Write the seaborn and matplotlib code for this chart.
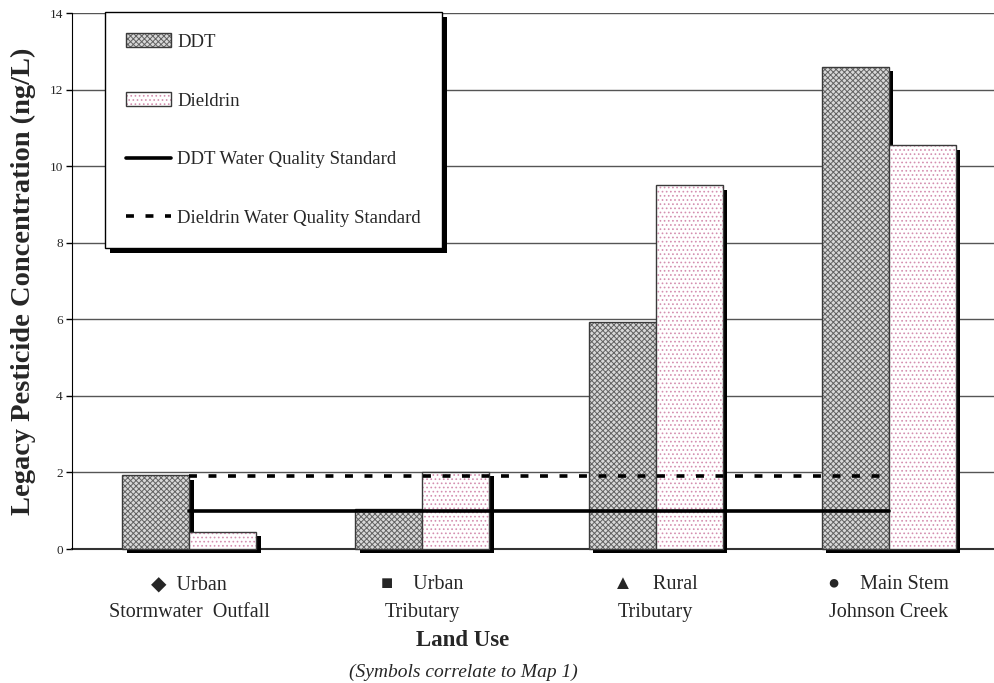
import pandas as pd
import matplotlib.pyplot as plt
import matplotlib.patheffects as pe
import seaborn as sns
from matplotlib.colors import to_rgba
from matplotlib.patches import Patch

# Data
land_use = ["\u25c6  Urban\nStormwater  Outfall", "\u25a0    Urban\nTributary",
            "\u25b2    Rural\nTributary", "\u25cf    Main Stem\nJohnson Creek"]
ddt = [1.92, 1.05, 5.93, 12.6]
dieldrin = [0.45, 2.02, 9.5, 10.55]
ddt_standard = [1.0, 1.0, 1.0, 1.0]
dieldrin_standard = [1.9, 1.9, 1.9, 1.9]

df = pd.DataFrame({
    "Land Use": land_use * 2,
    "Concentration": ddt + dieldrin,
    "Pesticide": ["DDT"] * 4 + ["Dieldrin"] * 4,
})

sns.set_style("white")
plt.rcParams["font.family"] = ["Liberation Serif", "DejaVu Sans"]
plt.rcParams["hatch.linewidth"] = 0.7

fig = plt.figure(figsize=(9.95, 6.83), dpi=100)
ax = fig.add_axes([72.5 / 995, 1 - 549 / 683, 922.5 / 995, 536 / 683])

sns.barplot(data=df, x="Land Use", y="Concentration", hue="Pesticide",
            width=0.575, gap=0, errorbar=None, ax=ax, legend=False, zorder=3)

# bar styling: hatch, outline and a hard black drop shadow
styles = {0: ("#d8d8d8", "xxxxxx", "#626262"), 1: ("white", "....", "#d48fb0")}
shadow = [pe.PathPatchEffect(offset=(3.2, -3.2), facecolor="black", edgecolor="black", linewidth=0),
          pe.Normal()]
for i, cont in enumerate(ax.containers):
    face, hatch, hcol = styles[i]
    for p in cont:
        p.set_facecolor(face)
        p.set_edgecolor("#3a3a3a")
        p.set_linewidth(1.0)
        p.set_hatch(hatch)
        p._hatch_color = to_rgba(hcol)
        p.set_path_effects(shadow)
        p.set_clip_on(False)

# water quality standards
xpos = list(range(len(land_use)))
l1, = ax.plot(xpos, ddt_standard, color="black", lw=2.6, zorder=5)
l2, = ax.plot(xpos, dieldrin_standard, color="black", lw=2.6, ls=(0, (2.2, 3.2)), zorder=5)

ax.set_ylim(0, 14)
ax.set_xlim(-0.5, 3.455)
ax.set_yticks(range(0, 15, 2))
ax.yaxis.grid(True, color="#555555", lw=1.0, zorder=0)
ax.set_axisbelow(True)
for s in ["top", "right"]:
    ax.spines[s].set_visible(False)
ax.spines["left"].set_color("black")
ax.spines["bottom"].set_color("#333333")
ax.spines["bottom"].set_linewidth(1.5)
ax.spines["bottom"].set_zorder(2)
ax.tick_params(axis="y", length=4, width=1, color="black", labelsize=9.5, pad=3, left=True)
ax.tick_params(axis="x", length=0, labelsize=14.5, pad=19)
for lbl in ax.get_xticklabels():
    lbl.set_linespacing(1.6)

ax.set_ylabel("Legacy Pesticide Concentration (ng/L)", fontsize=20.5,
              fontweight="bold", labelpad=10)
ax.set_xlabel("")
fig.text(463 / 995, 1 - 641 / 683, "Land Use", ha="center", va="center",
         fontsize=16.5, fontweight="bold")
fig.text(463 / 995, 1 - 672 / 683, "(Symbols correlate to Map 1)", ha="center", va="center",
         fontsize=14, style="italic")

# legend
h_ddt = Patch(facecolor=styles[0][0], edgecolor="#3a3a3a", hatch=styles[0][1], lw=1.0)
h_ddt._hatch_color = to_rgba(styles[0][2])
h_die = Patch(facecolor=styles[1][0], edgecolor="#3a3a3a", hatch=styles[1][1], lw=1.0)
h_die._hatch_color = to_rgba(styles[1][2])
handles = [h_ddt, h_die, l1, l2]
labels = ["DDT", "Dieldrin", "DDT Water Quality Standard", "Dieldrin Water Quality Standard"]
leg = ax.legend(handles, labels, loc="upper left", bbox_to_anchor=(0.035, 1.002),
                borderaxespad=0, fontsize=13.5, frameon=True, fancybox=False,
                edgecolor="black", framealpha=1, labelspacing=2.2, borderpad=1.15,
                handlelength=2.4, handleheight=0.75, handletextpad=0.3)
leg.get_frame().set_linewidth(1.0)
leg.get_frame().set_path_effects([
    pe.SimplePatchShadow(offset=(3.5, -3.5), shadow_rgbFace="black", alpha=1.0),
    pe.Normal()])
leg.set_zorder(10)

fig.savefig("out.png", dpi=100)
